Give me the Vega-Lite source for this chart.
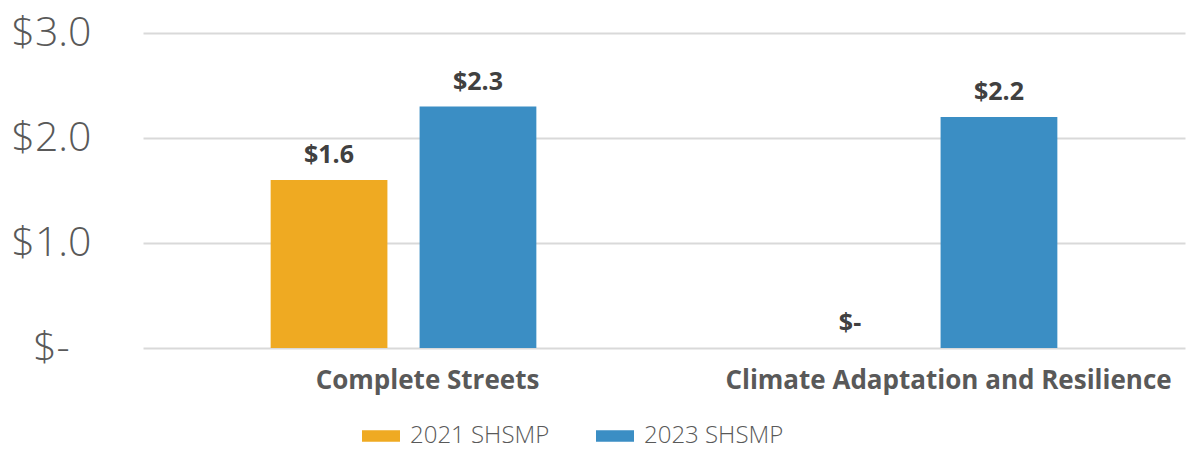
{
  "$schema": "https://vega.github.io/schema/vega-lite/v6.json",
  "autosize": "none",
  "width": 1042,
  "height": 315,
  "padding": {"left": 143, "top": 33, "right": 1, "bottom": 102},
  "background": "white",
  "config": {"view": {"stroke": null}, "font": "Open Sans"},
  "data": {"values": [
    {"category": "Complete Streets", "plan": "2021 SHSMP", "value": 1.6, "label": "$1.6"},
    {"category": "Complete Streets", "plan": "2023 SHSMP", "value": 2.3, "label": "$2.3"},
    {"category": "Climate Adaptation and Resilience", "plan": "2021 SHSMP", "value": 0, "label": "$-"},
    {"category": "Climate Adaptation and Resilience", "plan": "2023 SHSMP", "value": 2.2, "label": "$2.2"}
  ]},
  "encoding": {
    "x": {"field": "category", "type": "nominal", "sort": ["Complete Streets", "Climate Adaptation and Resilience"],
      "scale": {"paddingInner": 0.49, "paddingOuter": 0.245},
      "axis": {"title": null, "domain": false, "ticks": false, "tickSize": 0, "labelAngle": 0, "labelPadding": 19, "labelLimit": 0,
        "labelFont": "Open Sans", "labelFontWeight": "bold", "labelFontSize": 26, "labelColor": "#595959", "labelOffset": 24}},
    "xOffset": {"field": "plan", "type": "nominal", "scale": {"paddingInner": 0.216, "paddingOuter": 0}},
    "y": {"field": "value", "type": "quantitative", "scale": {"domain": [0, 3]},
      "axis": {"title": null, "values": [0, 1, 2, 3], "domain": false, "ticks": false, "tickSize": 0,
        "labelExpr": "datum.value == 0 ? '$-' : '$' + format(datum.value, '.1f')",
        "labelAlign": "center", "labelPadding": 92, "labelFontSize": 41, "labelColor": "#595959", "labelFont": "Open Sans", "labelFontWeight": 300,
        "gridColor": "#D9D9D9", "gridWidth": 2}}
  },
  "layer": [
    {"mark": {"type": "bar"},
      "encoding": {"color": {"field": "plan", "type": "nominal",
        "scale": {"domain": ["2021 SHSMP", "2023 SHSMP"], "range": ["#EFAA22", "#3B8EC4"]},
        "legend": {"title": null, "orient": "none", "legendX": 219, "legendY": 384, "direction": "horizontal",
          "symbolType": "M-1,-0.3H1V0.3H-1Z", "symbolSize": 1444, "symbolStrokeWidth": 0, "labelFontSize": 24, "labelColor": "#595959", "labelFont": "Open Sans", "labelFontWeight": 300,
          "labelLimit": 0, "columnPadding": 46, "labelOffset": 10}}}},
    {"mark": {"type": "text", "baseline": "alphabetic", "dy": -17, "fontSize": 25, "fontWeight": "bold", "color": "#404040", "font": "Open Sans"},
      "encoding": {"text": {"field": "label"}}}
  ]
}
